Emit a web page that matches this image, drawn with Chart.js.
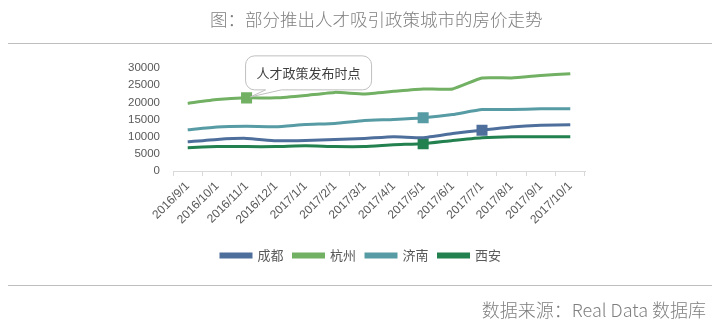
<!DOCTYPE html>
<html>
<head>
<meta charset="utf-8">
<script src="https://cdn.jsdelivr.net/npm/chart.js@4/dist/chart.umd.min.js"></script>
<style>
  body { margin: 0; background: #fff; }
  #wrap { position: relative; width: 717px; height: 328px; overflow: hidden; }
  #title { position: absolute; left: 210px; top: 6px; white-space: nowrap;
           font: 300 17.5px "Noto Sans CJK SC", sans-serif; color: #7f7f7f; }
  .rule { position: absolute; left: 8px; width: 704px; height: 1px; background: #bfbfbf; }
  #source { position: absolute; right: 11px; top: 296px; white-space: nowrap;
            font: 300 18px "Noto Sans CJK SC", sans-serif; color: #7f7f7f; }
  canvas { position: absolute; left: 0; top: 0; }
</style>
</head>
<body>
<div id="wrap">
  <canvas id="myChart" width="717" height="328"></canvas>
  <div id="title">图：部分推出人才吸引政策城市的房价走势</div>
  <div class="rule" style="top:43px"></div>
  <div class="rule" style="top:285px"></div>
  <div id="source">数据来源：Real Data 数据库</div>
</div>
<script>
// months on the x axis
var months = ['2016/9/1', '2016/10/1', '2016/11/1', '2016/12/1', '2017/1/1', '2017/2/1', '2017/3/1',
  '2017/4/1', '2017/5/1', '2017/6/1', '2017/7/1', '2017/8/1', '2017/9/1', '2017/10/1'];

// price per city
var chengdu  = [8500, 9200, 9500, 8800, 8900, 9200, 9500, 10000, 9700, 10900, 11900, 12800, 13300, 13450];
var hangzhou = [19700, 20800, 21300, 21300, 22000, 22900, 22450, 23200, 23900, 23900, 27100, 27100, 27800, 28350];
var jinan    = [12000, 12800, 13000, 12900, 13550, 13850, 14700, 15000, 15500, 16450, 17900, 17900, 18100, 18100];
var xian     = [6800, 7100, 7100, 7100, 7350, 7100, 7100, 7650, 7950, 8900, 9700, 10000, 10000, 10000];

// month index where each city's talent policy came out
var policyIdx = { chengdu: 10, hangzhou: 2, jinan: 8, xian: 8 };

var calloutText = '人才政策发布时点';

function markers(idx) {
  return months.map((_, i) => i === idx ? 7.8 : 0);
}

function line(label, values, color, idx) {
  return {
    label: label,
    data: values,
    borderColor: color,
    backgroundColor: color,
    borderWidth: 3,
    tension: 0.15,
    pointStyle: 'rect',
    pointRadius: markers(idx),
    pointHoverRadius: markers(idx),
    pointBorderWidth: 0
  };
}

var data = {
  labels: months,
  datasets: [
    line('成都', chengdu, '#4e6f9c', policyIdx.chengdu),
    line('杭州', hangzhou, '#72b063', policyIdx.hangzhou),
    line('济南', jinan, '#579ba4', policyIdx.jinan),
    line('西安', xian, '#23804f', policyIdx.xian)
  ]
};

// speech bubble pointing at the hangzhou marker
var callout = {
  id: 'callout',
  afterLayout(chart) {
    // legend sits a little right of the canvas centre in the original
    chart.legend.left += 7;
    chart.legend.right += 7;
  },
  afterDatasetsDraw(chart) {
    var ctx = chart.ctx;
    var px = chart.scales.x.getPixelForValue(policyIdx.hangzhou);
    var py = chart.scales.y.getPixelForValue(hangzhou[policyIdx.hangzhou]);
    var x = px - 1, y = py - 42, w = 126, h = 34, r = 9;
    ctx.save();
    ctx.beginPath();
    ctx.moveTo(x + r, y);
    ctx.lineTo(x + w - r, y);
    ctx.arcTo(x + w, y, x + w, y + r, r);
    ctx.lineTo(x + w, y + h - r);
    ctx.arcTo(x + w, y + h, x + w - r, y + h, r);
    ctx.lineTo(x + 36, y + h);
    ctx.lineTo(px + 4, py - 1);
    ctx.lineTo(x + 20, y + h);
    ctx.lineTo(x + r, y + h);
    ctx.arcTo(x, y + h, x, y + h - r, r);
    ctx.lineTo(x, y + r);
    ctx.arcTo(x, y, x + r, y, r);
    ctx.closePath();
    ctx.fillStyle = '#fff';
    ctx.fill();
    ctx.strokeStyle = '#bfbfbf';
    ctx.lineWidth = 1;
    ctx.stroke();
    ctx.fillStyle = '#404040';
    ctx.font = '13px "Noto Sans CJK SC", sans-serif';
    ctx.textAlign = 'center';
    ctx.textBaseline = 'middle';
    ctx.fillText(calloutText, x + w / 2, y + h / 2);
    ctx.restore();
  }
};

var ctx = document.getElementById('myChart').getContext('2d');

var myChart = new Chart(ctx, {
  type: 'line',
  data: data,
  plugins: [callout],
  options: {
    responsive: false,
    animation: false,
    layout: { padding: { left: 123, right: 132, top: 68, bottom: 56 } },
    plugins: {
      legend: {
        position: 'bottom',
        labels: {
          boxWidth: 30,
          boxHeight: 3,
          padding: 10,
          color: '#595959',
          font: { family: '"Noto Sans CJK SC", sans-serif', size: 13 }
        }
      },
      tooltip: { enabled: false }
    },
    scales: {
      x: {
        offset: true,
        grid: { display: true, drawOnChartArea: false, color: '#d9d9d9', tickLength: 5, offset: true },
        border: { color: '#d9d9d9' },
        ticks: {
          color: '#595959',
          font: { family: '"Liberation Sans", sans-serif', size: 12 },
          minRotation: 45,
          maxRotation: 45,
          autoSkip: false
        },
        afterFit(scale) { scale.height = 68; }
      },
      y: {
        min: 0,
        max: 30000,
        grid: { display: false },
        border: { display: false },
        ticks: {
          stepSize: 5000,
          padding: 5,
          color: '#595959',
          font: { family: '"Liberation Sans", sans-serif', size: 11.5 },
          callback: (v) => String(v)
        },
        afterFit(scale) { scale.width = 50; }
      }
    }
  }
});
</script>
</body>
</html>
